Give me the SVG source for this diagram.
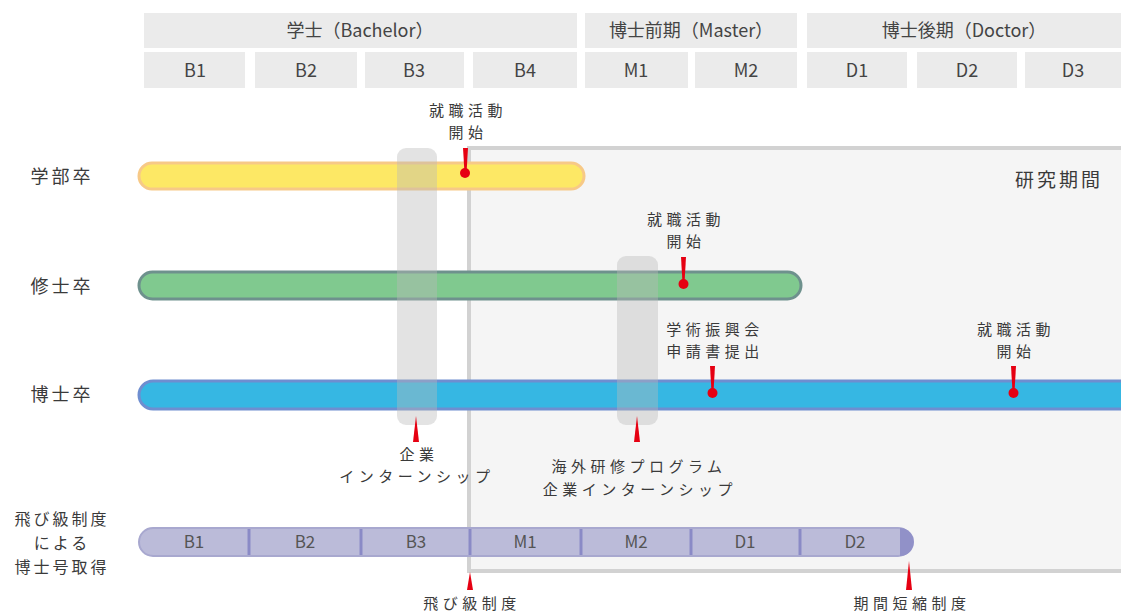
<svg xmlns="http://www.w3.org/2000/svg" width="1121" height="613" viewBox="0 0 1121 613">
<style>
text{font-family:"Noto Sans CJK JP","Noto Sans",sans-serif;fill:#3a3a3a;}
.h{font-size:18px;text-anchor:middle;fill:#444;}
.l{font-size:18px;letter-spacing:3px;text-anchor:middle;}
.l2{font-size:16px;letter-spacing:3px;text-anchor:middle;}
.s{font-size:15px;letter-spacing:4.5px;text-anchor:middle;}
.cell{fill:#ebebeb;}
.band{fill:#b8b8b8;opacity:0.4;}
.red{fill:#e60012;}
.seg{font-size:17px;text-anchor:middle;fill:#555;}
</style>
<rect width="1121" height="613" fill="#ffffff"/>
<g id="header">
<rect class="cell" x="144" y="13" width="433" height="35"/>
<rect class="cell" x="585" y="13" width="212" height="35"/>
<rect class="cell" x="807" y="13" width="320" height="35"/>
<text class="h" x="360" y="37">学士（Bachelor）</text>
<text class="h" x="691" y="37">博士前期（Master）</text>
<text class="h" x="964" y="37">博士後期（Doctor）</text>
<rect class="cell" x="144" y="52" width="101" height="36"/>
<rect class="cell" x="255" y="52" width="102" height="36"/>
<rect class="cell" x="365" y="52" width="99" height="36"/>
<rect class="cell" x="473" y="52" width="104" height="36"/>
<rect class="cell" x="585" y="52" width="103" height="36"/>
<rect class="cell" x="695" y="52" width="102" height="36"/>
<rect class="cell" x="807" y="52" width="100" height="36"/>
<rect class="cell" x="917" y="52" width="100" height="36"/>
<rect class="cell" x="1025" y="52" width="100" height="36"/>
<text class="h" x="195" y="77">B1</text>
<text class="h" x="306" y="77">B2</text>
<text class="h" x="414" y="77">B3</text>
<text class="h" x="525" y="77">B4</text>
<text class="h" x="636" y="77">M1</text>
<text class="h" x="746" y="77">M2</text>
<text class="h" x="857" y="77">D1</text>
<text class="h" x="967" y="77">D2</text>
<text class="h" x="1073" y="77">D3</text>
</g>
<g id="research-period">
<rect x="469" y="148" width="700" height="423" fill="#f5f5f5" stroke="#d2d2d2" stroke-width="4"/>
<text x="1103" y="187" style="font-size:19px;letter-spacing:3px;text-anchor:end;">研究期間</text>
</g>
<g id="row-labels">
<text class="l" x="62" y="183">学部卒</text>
<text class="l" x="62" y="293">修士卒</text>
<text class="l" x="62" y="401">博士卒</text>
<text class="l2" x="62" y="525">飛び級制度</text>
<text class="l2" x="62" y="549">による</text>
<text class="l2" x="62" y="573">博士号取得</text>
</g>
<g id="bar-bachelor">
<rect x="139" y="163" width="445" height="26" rx="13" fill="#fde865" stroke="#f7c987" stroke-width="3"/>
</g>
<g id="bar-master">
<rect x="139" y="272" width="662" height="27" rx="13.5" fill="#80c98f" stroke="#6e918d" stroke-width="3"/>
</g>
<g id="bar-doctor">
<rect x="139" y="381" width="1000" height="28" rx="14" fill="#36b7e3" stroke="#6e8ed0" stroke-width="3"/>
</g>
<g id="bar-skip">
<rect x="139" y="528" width="773" height="28" rx="14" fill="#bbbbd9" stroke="#a8a8cf" stroke-width="2"/>
<path d="M900,528 h0 a14,14 0 0 1 0,28 z" fill="#9191c8"/>
<g stroke="#8a8ac6" stroke-width="3">
<line x1="249" y1="529" x2="249" y2="555"/>
<line x1="361" y1="529" x2="361" y2="555"/>
<line x1="470" y1="529" x2="470" y2="555"/>
<line x1="581" y1="529" x2="581" y2="555"/>
<line x1="691" y1="529" x2="691" y2="555"/>
<line x1="800" y1="529" x2="800" y2="555"/>
</g>
<text class="seg" x="194" y="548">B1</text>
<text class="seg" x="305" y="548">B2</text>
<text class="seg" x="416" y="548">B3</text>
<text class="seg" x="525" y="548">M1</text>
<text class="seg" x="636" y="548">M2</text>
<text class="seg" x="745" y="548">D1</text>
<text class="seg" x="855" y="548">D2</text>
</g>
<g id="band-internship">
<rect class="band" x="397" y="148" width="40" height="277" rx="9"/>
<path class="red" d="M416,416 L419,442 L413,442 Z"/>
<text class="s" x="419" y="460">企業</text>
<text class="s" x="417" y="482">インターンシップ</text>
</g>
<g id="band-overseas">
<rect class="band" x="617" y="256" width="41" height="169" rx="9"/>
<path class="red" d="M637,416 L640,442 L634,442 Z"/>
<text class="s" x="639" y="472">海外研修プログラム</text>
<text class="s" x="640" y="495">企業インターンシップ</text>
</g>
<g id="marker-job-bachelor">
<path class="red" d="M463,148 L468,148 L466.5,173 L464.5,173 Z"/>
<circle class="red" cx="465" cy="173" r="5"/>
<text class="s" x="468" y="116">就職活動</text>
<text class="s" x="468" y="138">開始</text>
</g>
<g id="marker-job-master">
<path class="red" d="M681,257 L686,257 L684.5,283 L682.5,283 Z"/>
<circle class="red" cx="683.5" cy="284" r="5"/>
<text class="s" x="686" y="225">就職活動</text>
<text class="s" x="686" y="247">開始</text>
</g>
<g id="marker-jsps">
<path class="red" d="M710,366 L715,366 L713.5,392 L711.5,392 Z"/>
<circle class="red" cx="712.5" cy="393" r="5"/>
<text class="s" x="715" y="335">学術振興会</text>
<text class="s" x="715" y="357">申請書提出</text>
</g>
<g id="marker-job-doctor">
<path class="red" d="M1011,366 L1016,366 L1014.5,392 L1012.5,392 Z"/>
<circle class="red" cx="1013.5" cy="393" r="5"/>
<text class="s" x="1016" y="335">就職活動</text>
<text class="s" x="1016" y="357">開始</text>
</g>
<g id="marker-skip">
<path class="red" d="M470,572 L473,590 L467,590 Z"/>
<text class="s" x="472" y="609">飛び級制度</text>
</g>
<g id="marker-shorten">
<path class="red" d="M909,561 L912,590 L906,590 Z"/>
<text class="s" x="912" y="609">期間短縮制度</text>
</g>
<g id="connectors"></g>
</svg>
